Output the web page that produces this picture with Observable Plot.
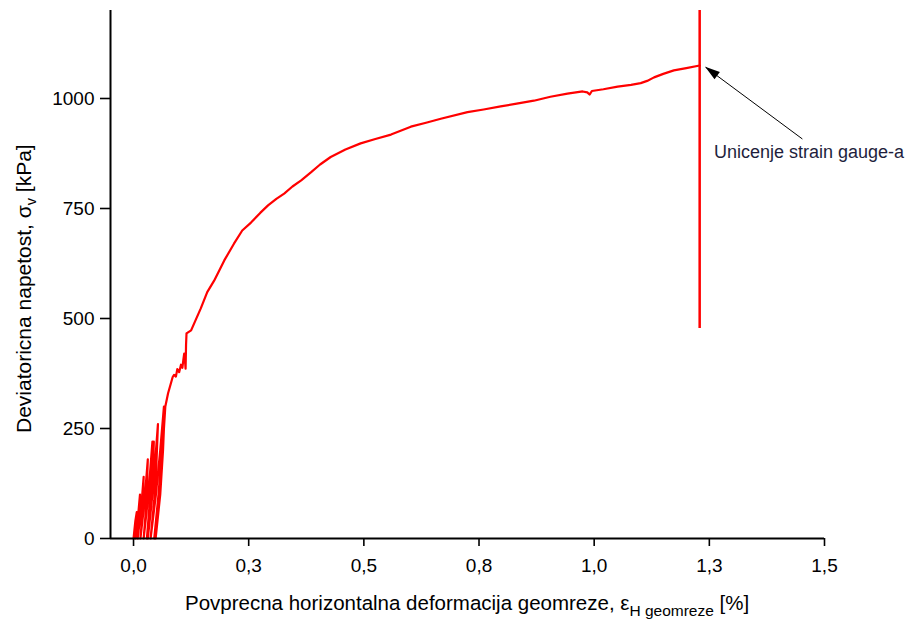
<!DOCTYPE html>
<html>
<head>
<meta charset="utf-8">
<script src="https://cdn.jsdelivr.net/npm/d3@7"></script>
<script src="https://cdn.jsdelivr.net/npm/@observablehq/plot@0.6"></script>
<style>
  html, body { margin: 0; padding: 0; background: #fff; }
  #chart { width: 906px; height: 619px; }
</style>
</head>
<body>
<div id="chart"></div>
<script>
// ---- data ----
// cyclic loading / unloading loops near the origin (strain %, stress kPa)
const cyclicStrain = [0.000, 0.002, 0.004, 0.007, 0.0065, 0.0055, 0.004,
                      0.008, 0.0112, 0.014, 0.013, 0.0115, 0.009,
                      0.0142, 0.0184, 0.022, 0.0206, 0.0185, 0.015,
                      0.0214, 0.0265, 0.031, 0.0292, 0.0265, 0.022,
                      0.0296, 0.0357, 0.041, 0.0386, 0.035, 0.029,
                      0.0345, 0.0398, 0.044, 0.0422, 0.0385, 0.031,
                      0.0398, 0.0468, 0.053, 0.0498, 0.045, 0.037,
                      0.0486, 0.0579, 0.066, 0.0618, 0.0555, 0.045,
                      0.0542, 0.0616, 0.068, 0.0640, 0.058, 0.048,
                      0.056, 0.063, 0.069];
const cyclicStress = [0, 20, 40, 60, 40, 20, 0,
                      33, 67, 100, 67, 33, 0,
                      47, 93, 140, 93, 47, 0,
                      60, 120, 180, 120, 60, 0,
                      73, 147, 220, 147, 73, 0,
                      73, 147, 220, 147, 73, 0,
                      87, 173, 260, 173, 87, 0,
                      100, 200, 300, 200, 100, 0,
                      100, 200, 300, 200, 100, 0,
                      100, 200, 300];
// monotonic branch up to the strain-gauge failure
const mainStrain = [0.075, 0.085, 0.088, 0.092, 0.095, 0.099, 0.103, 0.106, 0.108, 0.110, 0.112, 0.113, 0.114, 0.115,
                    0.125, 0.135, 0.146, 0.160, 0.175, 0.197, 0.218, 0.236, 0.255, 0.275, 0.292, 0.310, 0.327,
                    0.345, 0.364, 0.385, 0.405, 0.428, 0.460, 0.493, 0.525, 0.559, 0.602, 0.635, 0.667, 0.725,
                    0.760, 0.797, 0.835, 0.869, 0.905, 0.942, 0.975, 0.985, 0.990, 0.995, 1.020, 1.051, 1.080,
                    1.101, 1.115, 1.130, 1.150, 1.173, 1.200, 1.229];
const mainStress = [330, 367, 372, 368, 385, 378, 395, 388, 405, 420, 400, 386, 440, 466,
                    473, 497, 523, 560, 586, 632, 670, 700, 718, 740, 757, 772, 784,
                    800, 814, 832, 850, 867, 884, 898, 908, 918, 936, 945, 954, 969,
                    975, 982, 989, 995, 1004, 1011, 1016, 1014, 1009, 1017, 1021, 1027, 1031,
                    1035, 1040, 1048, 1056, 1064, 1069, 1075];
// vertical line at strain-gauge failure
const breakStrain = [1.229];
const breakFrom = [477];
const breakTo = [1200];
// annotation
const noteText = ["Unicenje strain gauge-a"];
const noteStrain = [1.26];
const noteStress = [877];
const arrowFrom = [1.452, 908];
const arrowTo = [1.242, 1071];
// axes
const xTicks = [0, 0.25, 0.5, 0.75, 1.0, 1.25, 1.5];
const xTickLabels = ["0,0", "0,3", "0,5", "0,8", "1,0", "1,3", "1,5"];
const yTicks = [0, 250, 500, 750, 1000];
const yTickLabels = ["0", "250", "500", "750", "1000"];
const xDomain = [-0.05, 1.5];
const yDomain = [0, 1200];

// ---- build tables ----
const curve = cyclicStrain.map((s, i) => ({strain: s, stress: cyclicStress[i]}))
  .concat(mainStrain.map((s, i) => ({strain: s, stress: mainStress[i]})));
const breakLine = breakStrain.map((s, i) => ({x: s, y1: breakFrom[i], y2: breakTo[i]}));
const notes = noteText.map((t, i) => ({text: t, x: noteStrain[i], y: noteStress[i]}));
const arrows = [{x1: arrowFrom[0], y1: arrowFrom[1], x2: arrowTo[0], y2: arrowTo[1]}];

const FONT = "'Liberation Sans', Arial, sans-serif";

const plot = Plot.plot({
  width: 906,
  height: 619,
  marginLeft: 110,
  marginRight: 82,
  marginTop: 10,
  marginBottom: 81,
  style: {fontFamily: FONT, fontSize: "19px", background: "#fff", color: "#000", overflow: "visible"},
  x: {domain: xDomain},
  y: {domain: yDomain},
  marks: [
    Plot.line(curve, {x: "strain", y: "stress", stroke: "#ff0000", strokeWidth: 2.2}),
    Plot.ruleX(breakLine, {x: "x", y1: "y1", y2: "y2", stroke: "#ff0000", strokeWidth: 2.5}),
    Plot.ruleX([xDomain[0]], {y1: yDomain[0], y2: yDomain[1], stroke: "#000", strokeWidth: 2}),
    Plot.ruleY([yDomain[0]], {x1: xDomain[0], x2: xDomain[1], stroke: "#000", strokeWidth: 2}),
    Plot.axisY({ticks: yTicks, tickFormat: (d) => yTickLabels[yTicks.indexOf(d)], tickSize: 10, tickPadding: 6, strokeWidth: 1.6, fontSize: 19, label: null}),
    Plot.axisX({ticks: xTicks, tickFormat: (d) => xTickLabels[xTicks.indexOf(d)], tickSize: 8, tickPadding: 12, strokeWidth: 1.6, fontSize: 19, label: null}),
    Plot.link(arrows, {x1: "x1", y1: "y1", x2: "x2", y2: "y2", stroke: "#000", strokeWidth: 1}),
    Plot.text(notes, {x: "x", y: "y", text: "text", textAnchor: "start", fontSize: 18, fill: "#1e1e3c"})
  ]
});

document.getElementById("chart").appendChild(plot);

// filled arrow head, positioned through the plot's scales
const sx = plot.scale("x"), sy = plot.scale("y");
const svg = d3.select(plot);
arrows.forEach(a => {
  const tx = sx.apply(a.x2), ty = sy.apply(a.y2);
  const fx = sx.apply(a.x1), fy = sy.apply(a.y1);
  const len = Math.hypot(tx - fx, ty - fy);
  const ux = (tx - fx) / len, uy = (ty - fy) / len;
  const nx = -uy, ny = ux;
  const hl = 15, hw = 4.5;
  const bx = tx - ux * hl, by = ty - uy * hl;
  svg.append("polygon")
    .attr("points", [[tx, ty], [bx + nx * hw, by + ny * hw], [bx - nx * hw, by - ny * hw]].map(p => p.join(",")).join(" "))
    .attr("fill", "#000");
});

// axis titles with subscripts
const xt = svg.append("text")
  .attr("x", 185).attr("y", 610).attr("text-anchor", "start")
  .attr("font-family", FONT).attr("font-size", 20.5).attr("fill", "#000");
xt.append("tspan").text("Povprecna horizontalna deformacija geomreze, ε");
xt.append("tspan").attr("dy", 6).attr("font-size", 15.5).text("H geomreze");
xt.append("tspan").attr("dy", -6).text(" [%]");

const yt = svg.append("text")
  .attr("transform", "translate(31,433) rotate(-90)").attr("text-anchor", "start")
  .attr("font-family", FONT).attr("font-size", 21).attr("fill", "#000");
yt.append("tspan").text("Deviatoricna napetost, σ");
yt.append("tspan").attr("dy", 5).attr("font-size", 14.5).text("v");
yt.append("tspan").attr("dy", -5).text(" [kPa]");
</script>
</body>
</html>
